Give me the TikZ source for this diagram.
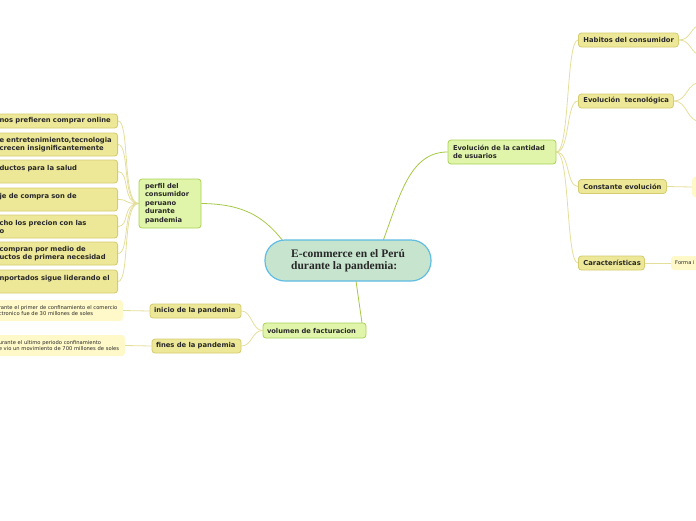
\documentclass[tikz,border=0pt]{standalone}
\usepackage{fontspec}
\newfontfamily\dvs{DejaVu Sans}
\newfontfamily\tserif{Liberation Serif}
\definecolor{limefill}{RGB}{224,245,170}
\definecolor{limeborder}{RGB}{170,210,85}
\definecolor{yelfill}{RGB}{237,231,152}
\definecolor{yelborder}{RGB}{212,204,110}
\definecolor{leaffill}{RGB}{255,248,200}
\definecolor{cenfill}{RGB}{199,228,206}
\definecolor{cenborder}{RGB}{95,188,228}
\definecolor{grline}{RGB}{165,200,70}
\definecolor{yline}{RGB}{228,222,155}
\definecolor{txt}{RGB}{40,40,40}
\pgfdeclarelayer{bg}
\pgfsetlayers{bg,main}
\tikzset{
  central/.style={draw=cenborder, fill=cenfill, line width=1.2pt, rounded corners=20pt,
    minimum width=166pt, minimum height=41pt, align=left, text=txt,
    font=\tserif\bfseries\fontsize{11.5}{12}\selectfont},
  lvlone/.style={draw=limeborder, fill=limefill, line width=0.8pt, rounded corners=3pt,
    text=txt, font=\dvs\bfseries\fontsize{6.7}{8.5}\selectfont, inner ysep=3pt},
  lvltwo/.style={draw=yelborder, fill=yelfill, line width=0.8pt, rounded corners=3pt,
    text=txt, font=\dvs\bfseries\fontsize{6.8}{8}\selectfont, inner ysep=3pt},
  leafbox/.style={draw=none, fill=leaffill, rounded corners=3pt,
    text=txt, font=\dvs\fontsize{5.2}{8}\selectfont},
  mainconn/.style={draw=grline, line width=0.8pt},
  subconn/.style={draw=yline, line width=0.8pt},
}
\begin{document}
\begin{tikzpicture}[x=1pt,y=-1pt]
\useasboundingbox (0,0) rectangle (696,520);
\clip (0,0) rectangle (696,520);

% central
\node[central] (c) at (348,260.5) {E-commerce en el Perú\\durante la pandemia:};

% level one
\node[lvlone, text width=50pt, inner xsep=6pt, align=left, minimum height=49pt] (perfil) at (170,203.5)
  {perfil del\\consumidor\\peruano\\durante\\pandemia};
\node[lvlone, text width=95pt, inner xsep=4pt, align=left, minimum height=15pt] (vol) at (314.5,330.5)
  {\mbox{volumen de facturacion}};
\node[lvlone, text width=98pt, inner xsep=5pt, align=left, minimum height=24pt] (evo) at (502,152)
  {\mbox{Evolución de la cantidad}\\de usuarios};

% left level two
\tikzset{lft/.style={lvltwo, anchor=east, text width=114pt, inner xsep=4pt, align=left}}
\node[lft, minimum height=14pt] (l1) at (118,121) {\mbox{nos prefieren comprar online}};
\node[lft, minimum height=23pt] (l2) at (118,144.5) {\mbox{e entretenimiento,tecnologia}\\\mbox{crecen insignificantemente}};
\node[lft, minimum height=23pt] (l3) at (118,171.5) {\mbox{ductos para la salud}\\\mbox{}};
\node[lft, minimum height=23pt] (l4) at (118,199.5) {\mbox{je de compra son de}\\\mbox{}};
\node[lft, minimum height=23pt] (l5) at (118,226.5) {\mbox{cho los precion con las}\\\mbox{o}};
\node[lft, minimum height=23pt] (l6) at (118,253.5) {\mbox{compran por medio de}\\\mbox{uctos de primera necesidad}};
\node[lft, minimum height=23pt] (l7) at (118,281.5) {\mbox{nportados sigue liderando el}\\\mbox{}};

% bottom left
\node[lvltwo, text width=83pt, align=left, minimum height=14pt, inner xsep=4pt] (ini) at (195.5,311) {\mbox{inicio de la pandemia}};
\node[lvltwo, text width=81pt, align=left, minimum height=14pt, inner xsep=4pt] (fin) at (196.5,346) {\mbox{fines de la pandemia}};
\node[leafbox, anchor=east, text width=121pt, inner xsep=3pt, align=left, minimum height=21pt] (lf1) at (123,310.5)
  {\mbox{rante el primer de confinamiento el comercio}\\[-2pt]\mbox{ctronico fue de 30 millones de soles}};
\node[leafbox, anchor=east, text width=123pt, inner xsep=3pt, align=left, minimum height=21pt] (lf2) at (125,345.5)
  {\mbox{urante el ultimo periodo confinamiento}\\[-2pt]\mbox{e vio un movimiento de 700 millones de soles}};

% right level two
\tikzset{rgt/.style={lvltwo, anchor=west, align=left, minimum height=14pt, inner xsep=5pt}}
\node[rgt, text width=90pt] (hab) at (578,40) {\mbox{Habitos del consumidor}};
\node[rgt, text width=85pt] (tec) at (578,101) {\mbox{Evolución\ \ tecnológica}};
\node[rgt, text width=78pt] (con) at (578,186.5) {\mbox{Constante evolución}};
\node[rgt, text width=56pt] (car) at (578,263) {\mbox{Características}};

% right leaves (cut by edge)
\node[leafbox, anchor=west, minimum width=40pt, minimum height=20pt] (rl1) at (692,187) {};
\node[leafbox, anchor=west, text width=36pt, inner xsep=4pt, align=left, minimum height=14pt] (rl2) at (671,263) {Forma i};
\coordinate (h1) at (702,25);
\coordinate (h2) at (702,55);
\coordinate (t1) at (702,82);
\coordinate (t2) at (702,122);

\begin{pgfonlayer}{bg}
% connectors: central
\draw[mainconn] (perfil.east) .. controls (240,204) and (262,214) .. (283,241);
\draw[mainconn] (383,241) .. controls (400,195) and (410,152) .. (evo.west);
\draw[mainconn] (356,281) -- (362,323);

% perfil to left nodes
\foreach \n in {l1,l2,l3,l4,l5,l6,l7}{
  \draw[subconn] (perfil.west) .. controls (122,203.5) and (130,0 |- \n.east) .. (\n.east);
}

% volumen to inicio/fines
\draw[subconn] (vol.west) .. controls (252,330.5) and (252,311) .. (ini.east);
\draw[subconn] (vol.west) .. controls (252,330.5) and (252,346) .. (fin.east);
\draw[subconn] (ini.west) -- (lf1.east);
\draw[subconn] (fin.west) -- (lf2.east);

% evo to right nodes
\foreach \n in {hab,tec,con,car}{
  \draw[subconn] (evo.east) .. controls (570,152) and (566,0 |- \n.west) .. (\n.west);
}
\draw[subconn] (hab.east) .. controls (692,40) and (690,25) .. (h1);
\draw[subconn] (hab.east) .. controls (692,40) and (690,55) .. (h2);
\draw[subconn] (tec.east) .. controls (688,101) and (686,82) .. (t1);
\draw[subconn] (tec.east) .. controls (688,101) and (686,122) .. (t2);
\draw[subconn] (con.east) -- (rl1.west);
\draw[subconn] (car.east) -- (rl2.west);
\end{pgfonlayer}
\end{tikzpicture}
\end{document}
